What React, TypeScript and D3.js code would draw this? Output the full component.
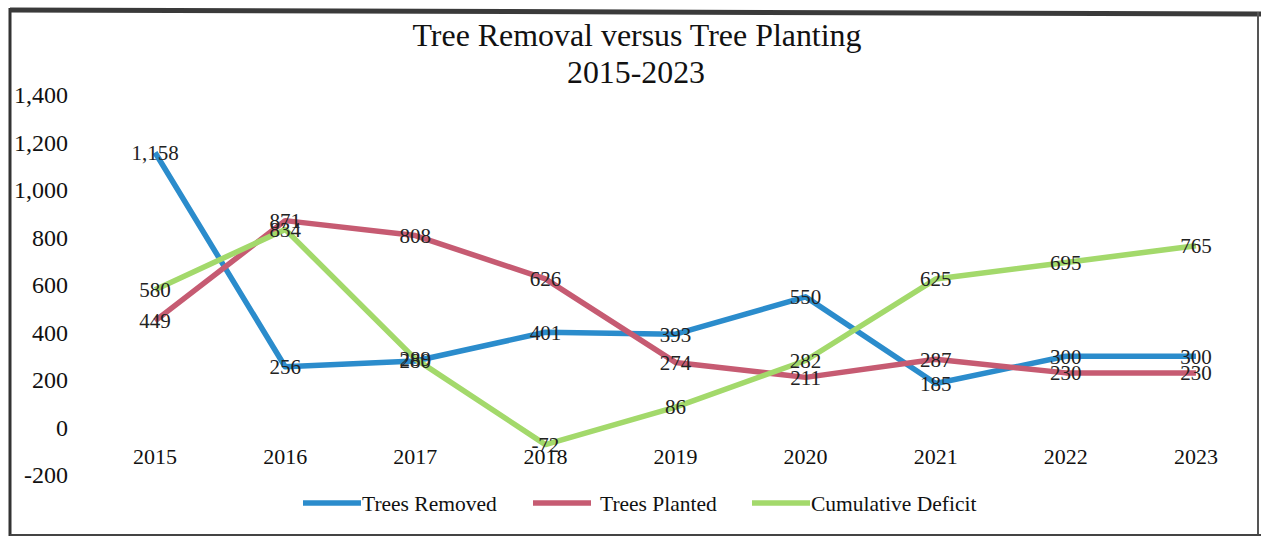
import React from 'react';
import { scalePoint, scaleLinear, line } from 'd3';

const years = ['2015', '2016', '2017', '2018', '2019', '2020', '2021', '2022', '2023'];
const removed = [1158, 256, 280, 401, 393, 550, 185, 300, 300];
const planted = [449, 871, 808, 626, 274, 211, 287, 230, 230];
const deficit = [580, 834, 289, -72, 86, 282, 625, 695, 765];
const yTicks = [-200, 0, 200, 400, 600, 800, 1000, 1200, 1400];
const seriesNames = ['Trees Removed', 'Trees Planted', 'Cumulative Deficit'];

const width = 1261;
const height = 540;
const font = '"Liberation Serif", "Times New Roman", serif';

const series = [
  { name: seriesNames[0], values: removed, color: '#2b8ccc' },
  { name: seriesNames[1], values: planted, color: '#c65b72' },
  { name: seriesNames[2], values: deficit, color: '#a3d96b' },
];

const fmt = (v: number) => v.toLocaleString('en-US');

const App = () => {
  const x = scalePoint<string>().domain(years).range([90, 1261]).padding(0.5);
  const y = scaleLinear().domain([-200, 1400]).range([475, 95]);

  const path = line<number>()
    .x((_, i) => x(years[i]) as number)
    .y(d => y(d));

  // legend swatch start and text start
  const legendX = [303, 533, 752];
  const legendTextX = [362, 600, 811];

  return (
    <svg width={width} height={height} style={{ position: 'absolute', left: 0, top: 0, background: '#fff' }}>
      {/* frame */}
      <line x1={10} y1={8} x2={10} y2={536} stroke="#333" strokeWidth={3} />
      <line x1={10} y1={10} x2={1261} y2={14} stroke="#3a3a3a" strokeWidth={5} />
      <line x1={1258} y1={12} x2={1258} y2={536} stroke="#555" strokeWidth={2} />
      <line x1={10} y1={535} x2={1261} y2={535} stroke="#444" strokeWidth={2} />

      <text x={637} y={46} textAnchor="middle" fontFamily={font} fontSize={31} fill="#111"
        textLength={449} lengthAdjust="spacingAndGlyphs">
        Tree Removal versus Tree Planting
      </text>
      <text x={636} y={83} textAnchor="middle" fontFamily={font} fontSize={31} fill="#111"
        textLength={138} lengthAdjust="spacingAndGlyphs">
        2015-2023
      </text>

      {yTicks.map(t => (
        <text key={t} x={68} y={y(t)} dy="0.35em" textAnchor="end" fontFamily={font} fontSize={24} fill="#111">
          {fmt(t)}
        </text>
      ))}

      {years.map(yr => (
        <text key={yr} x={x(yr)} y={456} dy="0.35em" textAnchor="middle" fontFamily={font} fontSize={22} fill="#111">
          {yr}
        </text>
      ))}

      {series.map(s => (
        <path key={s.name} d={path(s.values) || ''} fill="none" stroke={s.color} strokeWidth={5.5} strokeLinejoin="round" />
      ))}

      {series.map(s =>
        s.values.map((v, i) => (
          <text key={s.name + i} x={x(years[i])} y={y(v)} dy="0.35em" textAnchor="middle" fontFamily={font} fontSize={21} fill="#222">
            {fmt(v)}
          </text>
        ))
      )}

      {series.map((s, i) => (
        <g key={s.name}>
          <line x1={legendX[i]} x2={legendX[i] + 58} y1={503} y2={503} stroke={s.color} strokeWidth={5.5} />
          <text x={legendTextX[i]} y={503} dy="0.35em" fontFamily={font} fontSize={21.5} fill="#111">
            {s.name}
          </text>
        </g>
      ))}
    </svg>
  );
};

export default App;
